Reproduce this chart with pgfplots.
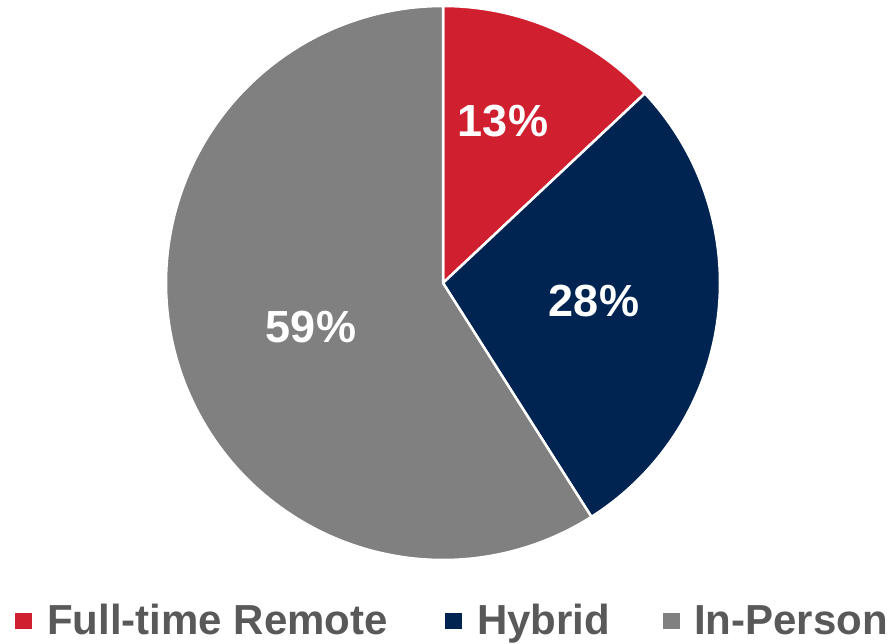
\documentclass[border=0pt]{standalone}
\usepackage{pgfplots}
\pgfplotsset{compat=1.18}
\usepackage{fontspec}
\setmainfont{Liberation Sans}
\definecolor{cred}{HTML}{D02030}
\definecolor{cnavy}{HTML}{002452}
\definecolor{cgray}{HTML}{808080}
\definecolor{ctext}{HTML}{595959}
\begin{document}
\begin{tikzpicture}
% shares in percent
\def\vA{13}
\def\vB{28}
\def\vC{59}
\pgfmathsetmacro{\aA}{90}
\pgfmathsetmacro{\aB}{90-\vA*3.6}
\pgfmathsetmacro{\aC}{\aB-\vB*3.6}
\pgfmathsetmacro{\aD}{\aC-\vC*3.6}
\begin{axis}[scale only axis, width=890bp, height=643bp,
  xmin=0, xmax=890, ymin=0, ymax=643, hide axis, clip=false]
\addplot[fill=cred, draw=white, line width=2.5bp, domain=\aB:\aA, samples=80]
  ({443+277*cos(x)},{360+277*sin(x)}) -- (axis cs:443,360) -- cycle;
\addplot[fill=cnavy, draw=white, line width=2.5bp, domain=\aC:\aB, samples=120]
  ({443+277*cos(x)},{360+277*sin(x)}) -- (axis cs:443,360) -- cycle;
\addplot[fill=cgray, draw=white, line width=2.5bp, domain=\aD:\aC, samples=200]
  ({443+277*cos(x)},{360+277*sin(x)}) -- (axis cs:443,360) -- cycle;
\node[font=\bfseries\fontsize{45bp}{45bp}\selectfont, text=white] at (axis cs:503,522) {13\%};
\node[font=\bfseries\fontsize{45bp}{45bp}\selectfont, text=white] at (axis cs:594,342) {28\%};
\node[font=\bfseries\fontsize{45bp}{45bp}\selectfont, text=white] at (axis cs:311,316) {59\%};
\node[anchor=base west, inner sep=0, font=\bfseries\fontsize{42bp}{42bp}\selectfont, text=ctext] at (axis cs:15,9)
  {\textcolor{cred}{\rule[5bp]{17bp}{16bp}}\hspace{15bp}Full-time Remote};
\node[anchor=base west, inner sep=0, font=\bfseries\fontsize{42bp}{42bp}\selectfont, text=ctext] at (axis cs:445,9)
  {\textcolor{cnavy}{\rule[5bp]{17bp}{16bp}}\hspace{15bp}Hybrid};
\node[anchor=base west, inner sep=0, font=\bfseries\fontsize{42bp}{42bp}\selectfont, text=ctext] at (axis cs:663,9)
  {\textcolor{cgray}{\rule[5bp]{17bp}{16bp}}\hspace{14bp}In-Person};
\end{axis}
\pgfresetboundingbox
\path (current axis.south west) rectangle (current axis.north east);
\end{tikzpicture}
\end{document}
